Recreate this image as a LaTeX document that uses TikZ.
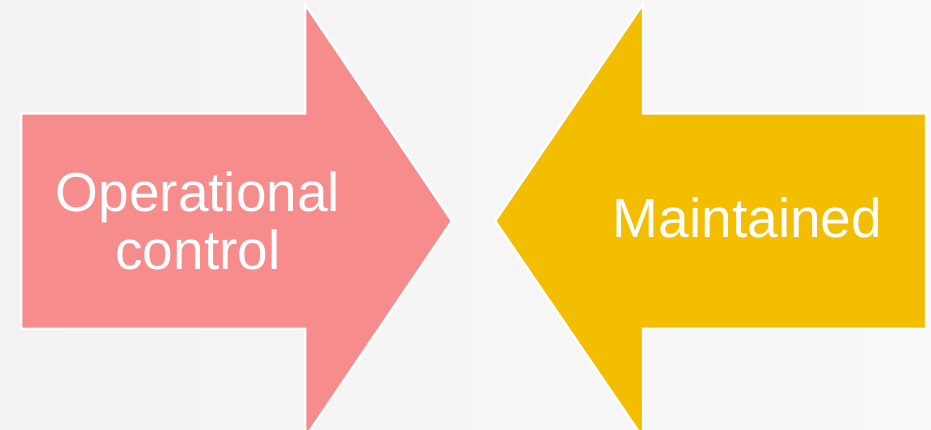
\documentclass[tikz,border=0pt]{standalone}
\usepackage{fontspec}
\setmainfont{Liberation Sans}
\definecolor{bgleft}{HTML}{F2F2F2}
\definecolor{bgright}{HTML}{F9F9F9}
\definecolor{pinkarrow}{HTML}{F78C8C}
\definecolor{yellowarrow}{HTML}{F4BE00}
\tikzset{
  arrowshape/.style={draw=white, line width=2.5pt, line join=miter},
  bigtext/.style={text=white, inner sep=0pt, align=center, font=\fontsize{55}{58}\selectfont}
}
\begin{document}
\begin{tikzpicture}[x=1pt,y=1pt]
\useasboundingbox (0,0) rectangle (931,430);
\clip (0,0) rectangle (931,430);
\shade[left color=bgleft, right color=bgright] (0,0) rectangle (931,430);
% left arrow (pointing right)
\fill[pinkarrow] (21,316.5) -- (305,316.5) -- (305,426) -- (452,209) -- (305,-8) -- (305,101) -- (21,101) -- cycle;
\draw[arrowshape] (21,316.5) -- (305,316.5) -- (305,426) -- (452,209) -- (305,-8) -- (305,101) -- (21,101) -- cycle;
% right arrow (pointing left)
\fill[yellowarrow] (926,316.5) -- (643,316.5) -- (643,426) -- (495,209) -- (643,-8) -- (643,101) -- (926,101) -- cycle;
\draw[arrowshape] (926,316.5) -- (643,316.5) -- (643,426) -- (495,209) -- (643,-8) -- (643,101) -- (926,101) -- cycle;
\node[bigtext] (op) at (198,209) {Operational\\control};
\node[bigtext, anchor=base] (mt) at (747.5,192) {Maintained};
\end{tikzpicture}
\end{document}
